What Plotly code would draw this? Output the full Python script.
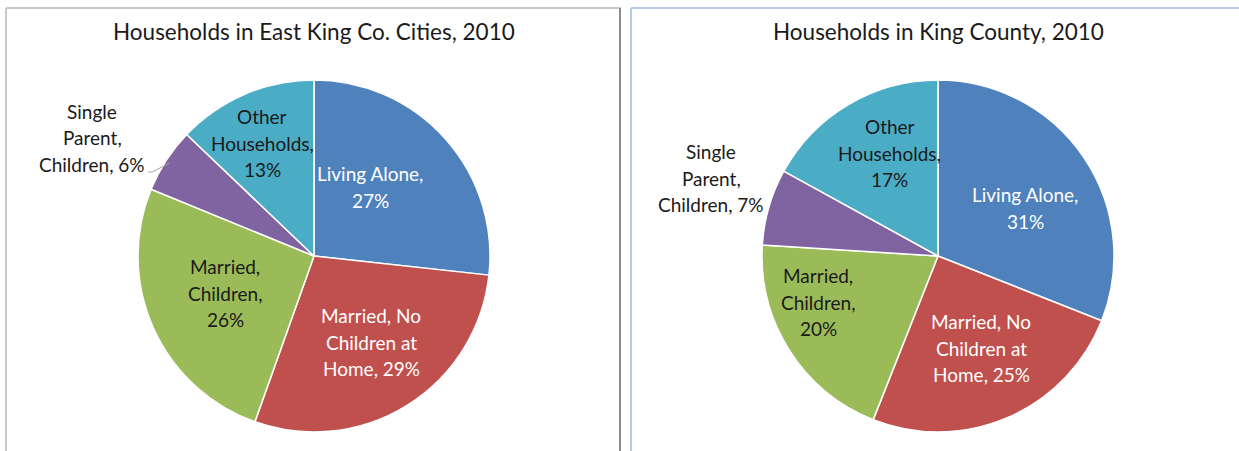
import math
import plotly.graph_objects as go

# ── DATA ──────────────────────────────────────────────────────────
categories = ["Living Alone", "Married, No Children at Home", "Married, Children",
              "Single Parent, Children", "Other Households"]
east_king_pct = [27, 29, 26, 6, 13]
king_county_pct = [31, 25, 20, 7, 17]
slice_colors = ["#4F81BD", "#C0504D", "#9BBB59", "#8064A2", "#4BACC6"]
label_lines = [
    ["Living Alone,", "{p}%"],
    ["Married, No", "Children at", "Home, {p}%"],
    ["Married,", "Children,", "{p}%"],
    ["Single", "Parent,", "Children, {p}%"],
    ["Other", "Households,", "{p}%"],
]
label_colors = ["white", "white", "#1a1a1a", "#1a1a1a", "#1a1a1a"]
titles = ["Households in East King Co. Cities, 2010", "Households in King County, 2010"]

# ── LAYOUT CONSTANTS (pixels) ─────────────────────────────────────
W, H = 1239, 451
R = 176
centers = [(314, 256), (938, 256)]
label_offsets = [
    [(56, -69), (57, 86), (-89, 37), (-222, -118), (-52, -113)],
    [(87, -48), (43, 92), (-120, 46), (-227, -78), (-48, -103)],
]
LINE_H = 26.5
FONT = "Lato"


def px(x):
    return x / W


def py(y):
    return 1 - y / H


fig = go.Figure()
annotations = []
shapes = []

for k, values in enumerate([east_king_pct, king_county_pct]):
    cx, cy = centers[k]
    fig.add_trace(go.Pie(
        labels=categories,
        values=values,
        sort=False,
        direction="clockwise",
        rotation=0,
        textinfo="none",
        marker=dict(colors=slice_colors, line=dict(color="white", width=1.5)),
        domain=dict(x=[px(cx - R), px(cx + R)], y=[py(cy + R), py(cy - R)]),
        showlegend=False,
        hovertemplate="%{label}: %{value}%<extra></extra>",
    ))

    # title
    annotations.append(dict(
        text=titles[k], x=px(cx), y=py(32), xref="paper", yref="paper",
        showarrow=False, xanchor="center", yanchor="middle",
        font=dict(family=FONT, size=22.5, color="#1a1a1a"),
    ))

    # data labels, one annotation per line
    for i, p in enumerate(values):
        lines = [t.format(p=p) for t in label_lines[i]]
        dx, dy = label_offsets[k][i]
        n = len(lines)
        for j, line in enumerate(lines):
            ly = cy + dy + (j - (n - 1) / 2) * LINE_H
            annotations.append(dict(
                text=line, x=px(cx + dx), y=py(ly), xref="paper", yref="paper",
                showarrow=False, xanchor="center", yanchor="middle",
                font=dict(family=FONT, size=19, color=label_colors[i]),
            ))

# leader line for the small "Single Parent" slice on the left pie
cx, cy = centers[0]
before = sum(east_king_pct[:3])
mid = (before + east_king_pct[3] / 2) / sum(east_king_pct) * 2 * math.pi
ex, ey = cx + R * math.sin(mid), cy - R * math.cos(mid)
shapes.append(dict(type="line", xref="paper", yref="paper",
                   x0=px(148), y0=py(172), x1=px(152), y1=py(172),
                   line=dict(color="#a6a6a6", width=1)))
shapes.append(dict(type="line", xref="paper", yref="paper",
                   x0=px(152), y0=py(172), x1=px(ex + 3), y1=py(ey + 3),
                   line=dict(color="#a6a6a6", width=1)))

# panel borders
shapes += [
    dict(type="line", xref="paper", yref="paper", x0=px(6), y0=py(8), x1=px(621), y1=py(8),
         line=dict(color="#c8c8c8", width=2)),
    dict(type="line", xref="paper", yref="paper", x0=px(6), y0=py(8), x1=px(6), y1=0,
         line=dict(color="#c8c8c8", width=2)),
    dict(type="line", xref="paper", yref="paper", x0=px(620), y0=py(8), x1=px(620), y1=0,
         line=dict(color="#8c8c8c", width=2)),
    dict(type="line", xref="paper", yref="paper", x0=px(631), y0=py(8), x1=1, y1=py(8),
         line=dict(color="#b4cbe8", width=2)),
    dict(type="line", xref="paper", yref="paper", x0=px(631), y0=py(8), x1=px(631), y1=0,
         line=dict(color="#b4cbe8", width=2)),
]

fig.update_layout(
    width=W, height=H,
    margin=dict(l=0, r=0, t=0, b=0),
    paper_bgcolor="white",
    plot_bgcolor="white",
    annotations=annotations,
    shapes=shapes,
    font=dict(family=FONT),
)

# drop the page's default body margin so the figure fills the window
fig.write_html("out.html", config={"displayModeBar": False},
               post_script="document.body.style.margin='0px';")
